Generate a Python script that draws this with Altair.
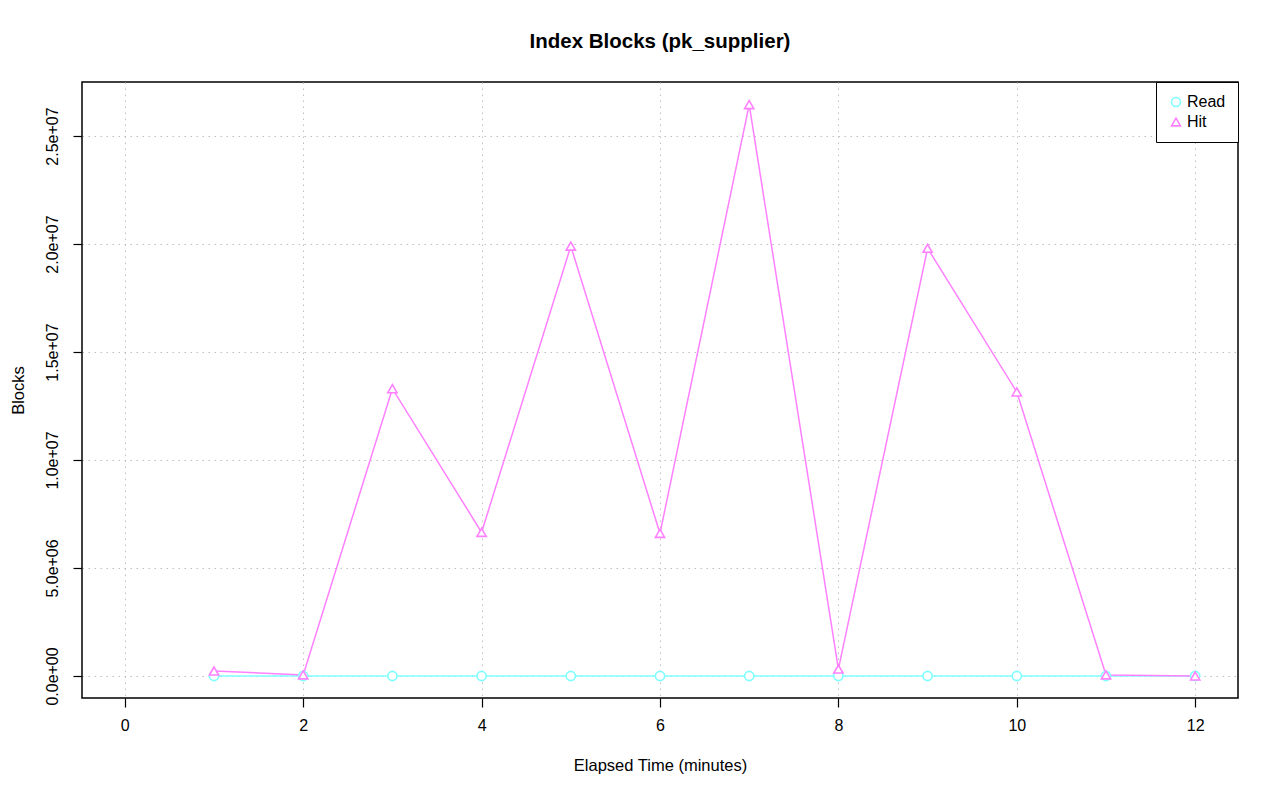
import altair as alt
import pandas as pd

minutes = [1, 2, 3, 4, 5, 6, 7, 8, 9, 10, 11, 12]
read_blocks = [0, 0, 0, 0, 0, 0, 0, 0, 0, 0, 0, 0]
hit_blocks = [230000, 50000, 13300000, 6650000, 19900000, 6600000,
              26450000, 320000, 19800000, 13150000, 50000, 0]
series = ["Read", "Hit"]
colors = ["#80FFFF", "#FF80FF"]
shapes = ["circle", "triangle-up"]

rows = []
for m, r, h in zip(minutes, read_blocks, hit_blocks):
    rows.append({"minutes": m, "blocks": r, "series": "Read"})
    rows.append({"minutes": m, "blocks": h, "series": "Hit"})
df = pd.DataFrame(rows)

FONT = "Liberation Sans"
LBL = 16
TTL = 16.5
GRID = dict(grid=True, gridColor="#c0c0c0", gridDash=[1.5, 4.5], gridWidth=1)

x = alt.X("minutes:Q", title="Elapsed Time (minutes)",
          scale=alt.Scale(domain=[-0.48, 12.48], nice=False, zero=False),
          axis=alt.Axis(values=[0, 2, 4, 6, 8, 10, 12], format="d",
                        domain=False, tickSize=9, tickColor="black", tickWidth=1.2,
                        labelFontSize=LBL, labelColor="black", labelPadding=10,
                        titleFontSize=TTL, titleFontWeight="normal", titlePadding=24,
                        titleColor="black", **GRID))
y = alt.Y("blocks:Q", title="Blocks",
          scale=alt.Scale(domain=[-1020000, 27500000], nice=False, zero=False),
          axis=alt.Axis(values=[0, 5000000, 10000000, 15000000, 20000000, 25000000],
                        labelExpr="replace(format(datum.value, '.1e'), regexp('e\\\\+(\\\\d)$'), 'e+0$1')",
                        domain=False, tickSize=9, tickColor="black", tickWidth=1.2,
                        labelAngle=-90, labelAlign="center", labelBaseline="bottom",
                        labelFontSize=LBL, labelColor="black", labelPadding=13,
                        titleFontSize=TTL, titleFontWeight="normal", titlePadding=18,
                        titleColor="black", **GRID))

legend = alt.Legend(title=None, orient="top-right", offset=0,
                    strokeColor="black", fillColor="white",
                    padding=12, labelFontSize=LBL, labelColor="black",
                    symbolSize=80, symbolStrokeWidth=1.6, rowPadding=4,
                    labelOffset=3)
color = alt.Color("series:N", scale=alt.Scale(domain=series, range=colors), legend=legend)
shape = alt.Shape("series:N", scale=alt.Scale(domain=series, range=shapes), legend=legend)

base = alt.Chart(df)
lines = base.mark_line(strokeWidth=1.5, clip=True).encode(
    x=x, y=y, color=color, detail="series:N")
points = base.mark_point(filled=False, fill="white", fillOpacity=1, size=85,
                         strokeWidth=1.6, clip=True).encode(
    x=x, y=y, color=color, shape=shape)

chart = alt.layer(lines, points).properties(
    width=1156, height=616,
    title=alt.TitleParams("Index Blocks (pk_supplier)", fontSize=20.5, fontWeight="bold",
                          font=FONT, color="black", offset=29, anchor="middle"),
    autosize=alt.AutoSizeParams(type="none"),
    padding={"left": 74, "top": 74, "right": 30, "bottom": 90},
).configure(font=FONT).configure_view(stroke="black", strokeWidth=1.5)

chart.save("out.html", embed_options={"renderer": "svg", "actions": False})
